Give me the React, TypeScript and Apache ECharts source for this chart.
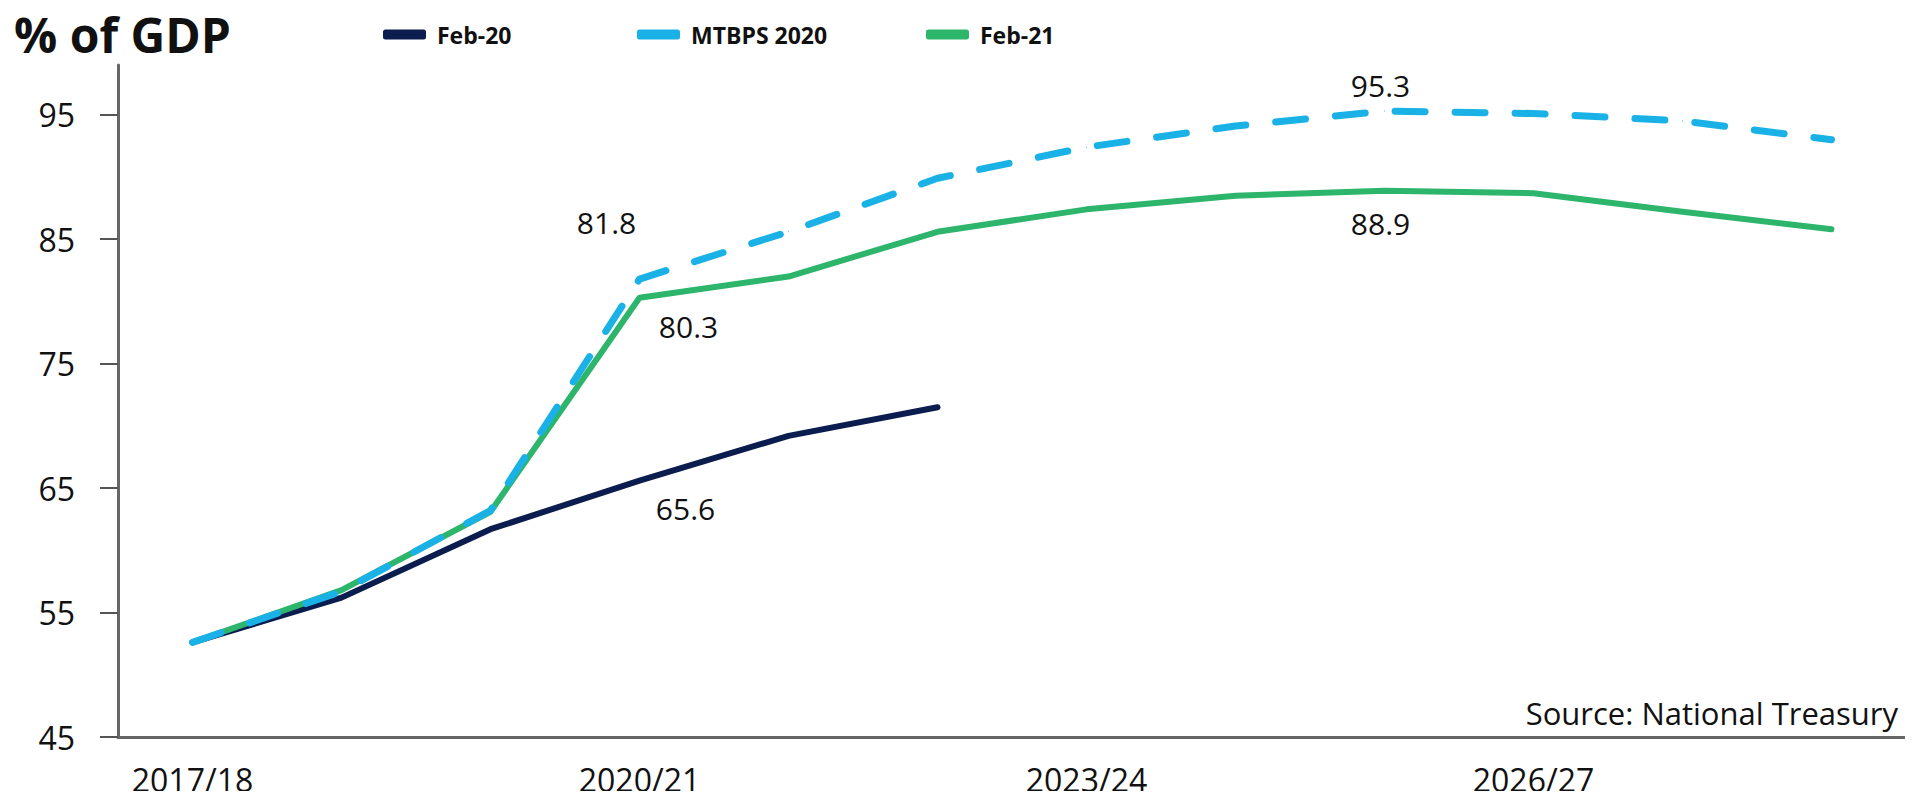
import React, { useEffect, useRef } from "react";
import * as echarts from "echarts";

const categories = [
  "2017/18", "2018/19", "2019/20", "2020/21", "2021/22", "2022/23",
  "2023/24", "2024/25", "2025/26", "2026/27", "2027/28", "2028/29",
];
const feb20 = [52.6, 56.2, 61.7, 65.6, 69.2, 71.5];
const mtbps2020 = [52.6, 56.7, 63.2, 81.8, 85.6, 89.9, 92.4, 94.1, 95.3, 95.1, 94.5, 93.0];
const feb21 = [52.6, 56.8, 63.1, 80.3, 82.0, 85.6, 87.4, 88.5, 88.9, 88.7, 87.2, 85.8];
const yTicks = [45, 55, 65, 75, 85, 95];
const seriesNames = ["Feb-20", "MTBPS 2020", "Feb-21"];
const colors = ["#0b1d4e", "#1ab2e6", "#2db56c"];

// labelled points: [seriesIndex, dataIndex, dx, dy]
const labelSpots: [number, number, number, number][] = [
  [0, 3, 46, 28],
  [1, 3, -33, -57],
  [2, 3, 49, 29],
  [1, 8, -4, -26],
  [2, 8, -4, 33],
];

const FONT = "'Open Sans', sans-serif";

function buildData(si: number, values: number[]) {
  return values.map((v, i) => {
    const spot = labelSpots.find((s) => s[0] === si && s[1] === i);
    if (!spot) return v;
    return {
      value: v,
      label: {
        show: true,
        position: "inside",
        offset: [spot[2], spot[3]],
        formatter: v.toFixed(1),
        color: "#111",
        fontSize: 30,
        fontFamily: FONT,
      },
    };
  });
}

export default function App() {
  const ref = useRef<HTMLDivElement>(null);
  useEffect(() => {
    if (!ref.current) return;
    const chart = echarts.init(ref.current, undefined, { renderer: "svg" });
    const legendBase = {
      top: 18,
      icon: "roundRect",
      itemWidth: 43,
      itemHeight: 10,
      textStyle: { fontFamily: FONT, fontSize: 23, fontWeight: "bold", color: "#111", padding: [0, 0, 0, 6] },
    };
    chart.setOption({
      animation: false,
      title: {
        text: "% of GDP",
        left: 14,
        top: 4,
        padding: 0,
        textStyle: { fontFamily: FONT, fontSize: 48, lineHeight: 60, fontWeight: "bold", color: "#111" },
      },
      legend: [
        { ...legendBase, left: 378, data: [seriesNames[0]] },
        { ...legendBase, left: 632, data: [seriesNames[1]] },
        { ...legendBase, left: 921, data: [seriesNames[2]] },
      ],
      grid: { left: 118, right: 7, top: 65, bottom: 62, containLabel: false },
      xAxis: {
        type: "category",
        data: categories,
        boundaryGap: true,
        axisLine: { lineStyle: { color: "#666", width: 3 } },
        axisTick: { alignWithLabel: true, interval: 2, length: 15, lineStyle: { color: "#555", width: 2 } },
        axisLabel: { interval: 2, margin: 26, fontFamily: FONT, fontSize: 32, color: "#111" },
      },
      yAxis: {
        type: "value",
        min: 45,
        max: 99,
        splitLine: { show: false },
        axisLine: { show: true, lineStyle: { color: "#666", width: 3 } },
        axisTick: { show: true, length: 18, customValues: yTicks, lineStyle: { color: "#555", width: 2 } },
        axisLabel: { customValues: yTicks, margin: 43, fontFamily: FONT, fontSize: 32, color: "#111" },
      },
      graphic: [
        {
          type: "text",
          right: 15,
          top: 697,
          style: { text: "Source: National Treasury", fontFamily: FONT, fontSize: 31, fill: "#111" },
        },
      ],
      series: [
        {
          name: seriesNames[0],
          type: "line",
          data: buildData(0, feb20),
          symbol: "circle",
          symbolSize: 1,
          itemStyle: { color: colors[0] },
          lineStyle: { width: 6, color: colors[0], cap: "round", join: "round" },
          z: 2,
        },
        {
          name: seriesNames[2],
          type: "line",
          data: buildData(2, feb21),
          symbol: "circle",
          symbolSize: 1,
          itemStyle: { color: colors[2] },
          lineStyle: { width: 6, color: colors[2], cap: "round", join: "round" },
          z: 3,
        },
        {
          name: seriesNames[1],
          type: "line",
          data: buildData(1, mtbps2020),
          symbol: "circle",
          symbolSize: 1,
          itemStyle: { color: colors[1] },
          lineStyle: { width: 7, color: colors[1], type: [30, 30], cap: "round", join: "round" },
          z: 4,
        },
      ],
    });
    return () => chart.dispose();
  }, []);
  return <div ref={ref} style={{ width: 1913, height: 799, margin: -8 }} />;
}
